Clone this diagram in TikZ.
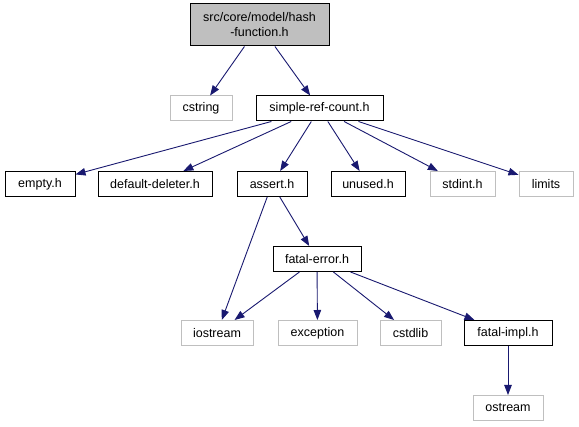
\documentclass[tikz,border=0pt]{standalone}
\usepackage{fontspec}
\setmainfont{Liberation Sans}
\usetikzlibrary{arrows.meta}
\definecolor{edgecol}{HTML}{191970}
\definecolor{graybd}{HTML}{BFBFBF}
\tikzset{
  box/.style={draw=black, line width=1pt, fill=white, inner sep=0pt, align=center,
    font=\fontsize{12.5}{15}\selectfont, minimum height=25pt},
  sysbox/.style={box, draw=graybd},
  rootbox/.style={box, fill=graybd},
  dep/.style={draw=edgecol, line width=0.9pt, -{Triangle[length=10pt,width=7.5pt]}},
}
\begin{document}
\begin{tikzpicture}[x=1pt,y=-1pt]
\useasboundingbox[fill=white] (0,0) rectangle (579,427);
\node[rootbox, minimum width=139pt, minimum height=42pt] (hash) at (259.5,25) {src/core/model/hash\\-function.h};
\node[sysbox, minimum width=62pt] (cstring) at (201,108.5) {cstring};
\node[box, minimum width=127pt] (simple) at (319.5,108.5) {simple-ref-count.h};
\node[box, minimum width=70pt] (empty) at (40,184) {empty.h};
\node[box, minimum width=114pt] (deleter) at (155,184) {default-deleter.h};
\node[box, minimum width=70pt] (assert) at (272,184) {assert.h};
\node[box, minimum width=74pt] (unused) at (368,184) {unused.h};
\node[sysbox, minimum width=65pt] (stdint) at (462.5,184) {stdint.h};
\node[sysbox, minimum width=54pt] (limits) at (546,184) {limits};
\node[box, minimum width=88pt] (fatalerr) at (317,259) {fatal-error.h};
\node[sysbox, minimum width=72pt] (iostream) at (217,333) {iostream};
\node[sysbox, minimum width=79pt] (exception) at (317.5,333) {exception};
\node[sysbox, minimum width=61pt] (cstdlib) at (410.5,333) {cstdlib};
\node[box, minimum width=88pt] (fatalimpl) at (508,333) {fatal-impl.h};
\node[sysbox, minimum width=70pt] (ostream) at (508,408) {ostream};
\draw[dep] (hash) -- (cstring);
\draw[dep] (hash) -- (simple);
\draw[dep] (simple) -- (empty);
\draw[dep] (simple) -- (deleter);
\draw[dep] (simple) -- (assert);
\draw[dep] (simple) -- (unused);
\draw[dep] (simple) -- (stdint);
\draw[dep] (simple) -- (limits);
\draw[dep] (assert) -- (iostream);
\draw[dep] (assert) -- (fatalerr);
\draw[dep] (fatalerr) -- (iostream);
\draw[dep] (fatalerr) -- (exception);
\draw[dep] (fatalerr) -- (cstdlib);
\draw[dep] (fatalerr) -- (fatalimpl);
\draw[dep] (fatalimpl) -- (ostream);
\end{tikzpicture}
\end{document}
